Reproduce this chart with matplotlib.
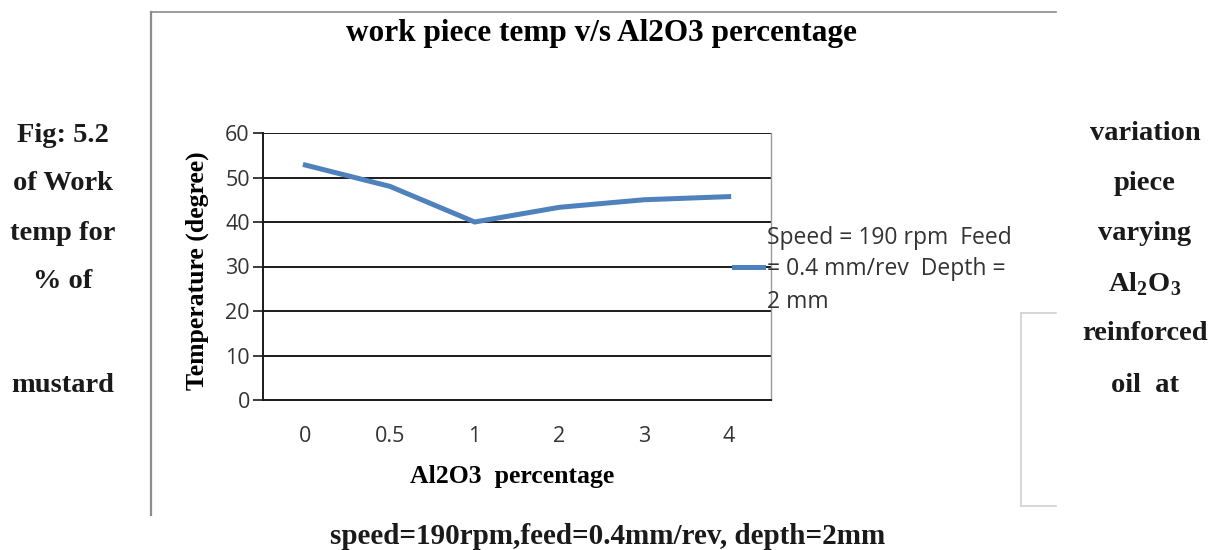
import matplotlib.pyplot as plt
from matplotlib.lines import Line2D

# work piece temperature vs Al2O3 percentage (mustard oil, 190 rpm)
al2o3_pct = ['0', '0.5', '1', '2', '3', '4']
temperature = [52.8, 48.0, 40.0, 43.3, 45.0, 45.7]
y_ticks = [0, 10, 20, 30, 40, 50, 60]
legend_lines = ['Speed = 190 rpm  Feed', '= 0.4 mm/rev  Depth =', '2 mm']

left_caption = ['Fig: 5.2', 'of Work', 'temp for', '% of', '', 'mustard']
right_caption = ['variation', 'piece', 'varying', r'Al$_\mathbf{2}$O$_\mathbf{3}$', 'reinforced', 'oil  at']
bottom_caption = 'speed=190rpm,feed=0.4mm/rev, depth=2mm'

W, H = 1217, 550
serif = 'Liberation Serif'
sans = 'Open Sans'
plt.rcParams['mathtext.fontset'] = 'custom'
plt.rcParams['mathtext.rm'] = 'Liberation Serif:bold'
plt.rcParams['mathtext.bf'] = 'Liberation Serif:bold'

fig = plt.figure(figsize=(W / 100, H / 100), dpi=100)
fig.patch.set_facecolor('white')

def px(x, y):
    return x / W, 1 - y / H

def hline(x0, x1, y, **kw):
    fig.add_artist(Line2D([x0 / W, x1 / W], [1 - y / H, 1 - y / H], **kw))

def vline(x, y0, y1, **kw):
    fig.add_artist(Line2D([x / W, x / W], [1 - y0 / H, 1 - y1 / H], **kw))

# frame of the chart object on the page
vline(151, 12, 515, color='#8c8c8c', lw=1.6)
hline(151, 1056, 12, color='#8c8c8c', lw=1.2)
# small box piece at the right
vline(1021, 313, 506, color='#d0d0d0', lw=1.2)
hline(1021, 1056, 313, color='#d0d0d0', lw=1.2)
hline(1021, 1056, 506, color='#d0d0d0', lw=1.2)

ax = fig.add_axes([263 / W, 1 - 400 / H, (771 - 263) / W, (400 - 133) / H])
x = range(len(al2o3_pct))
ax.plot(x, temperature, color='#4f81bd', lw=3.6, solid_joinstyle='miter')
ax.set_xlim(-0.5, len(al2o3_pct) - 0.5)
ax.set_ylim(0, 60)
ax.set_yticks(y_ticks)
ax.set_xticks(list(x))
ax.set_xticklabels(al2o3_pct)
for v in y_ticks[1:]:
    ax.axhline(v, color='#1a1a1a', lw=1.4, zorder=0)
ax.tick_params(axis='y', length=7.5, width=1.2, color='#1a1a1a', pad=2, labelsize=15.5, labelcolor='#333333')
ax.tick_params(axis='x', length=0, pad=19, labelsize=15.5, labelcolor='#333333')
for lab in ax.get_xticklabels() + ax.get_yticklabels():
    lab.set_family(sans)
ax.spines['top'].set_visible(False)
ax.spines['right'].set_color('#9a9a9a')
ax.spines['right'].set_linewidth(1.0)
for side in ['left', 'bottom']:
    ax.spines[side].set_color('#1a1a1a')
    ax.spines[side].set_linewidth(1.4)

ax.set_xlabel('Al2O3  percentage', family=serif, weight='bold', fontsize=18.5)
ax.set_ylabel('Temperature (degree)', family=serif, weight='bold', fontsize=18.5)
ax.xaxis.label.set_verticalalignment('center')
ax.yaxis.label.set_verticalalignment('center')
ax.xaxis.set_label_coords((512 - 263) / 508, -(477 - 400) / 267)
ax.yaxis.set_label_coords(-(263 - 197) / 508, (400 - 271) / 267)

# legend entry to the right of the plot
hline(734, 763, 267, color='#4f81bd', lw=3.6)
for s, yy in zip(legend_lines, [238, 269, 302]):
    fig.text(*px(767, yy), s, family=sans, fontsize=16.5, color='#333333', va='center', ha='left')

fig.text(*px(601, 34), 'work piece temp v/s Al2O3 percentage', family=serif, weight='bold',
         fontsize=22.5, ha='center', va='center')

# surrounding caption text
left_y = [135, 183, 233, 281, 333, 385]
for s, yy in zip(left_caption, left_y):
    fig.text(*px(63, yy), s, family=serif, weight='bold', fontsize=20.5, ha='center', va='center', color='#1a1a1a')
right_y = [133, 183, 233, 284, 334, 385]
for s, yy in zip(right_caption, right_y):
    fig.text(*px(1145, yy), s, family=serif, weight='bold', fontsize=20.5, ha='center', va='center', color='#1a1a1a')
fig.text(*px(608, 537), bottom_caption, family=serif, weight='bold', fontsize=21, ha='center', va='center', color='#1a1a1a')

fig.savefig('out.png', dpi=100)
